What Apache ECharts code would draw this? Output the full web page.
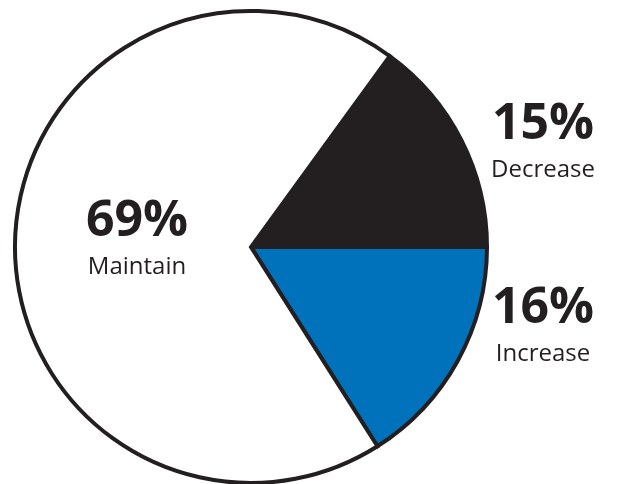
<!DOCTYPE html>
<html>
<head>
<meta charset="utf-8">
<style>
  html, body { margin: 0; padding: 0; background: #ffffff; }
  #chart { width: 618px; height: 484px; }
</style>
<script src="https://cdn.jsdelivr.net/npm/echarts@6/dist/echarts.min.js"></script>
</head>
<body>
<div id="chart"></div>
<script>
// Share of respondents by planned change
const categories = ['Decrease', 'Increase', 'Maintain'];
const shares = [15, 16, 69];
const sliceColors = ['#231f20', '#0072bc', '#ffffff'];
// Label anchor points (px) for each slice's caption
const labelSpots = [[543, 144], [543, 328], [137, 241]];

const ink = '#231f20';

const chart = echarts.init(document.getElementById('chart'), null, { renderer: 'canvas' });

chart.setOption({
  animation: false,
  backgroundColor: '#ffffff',
  series: [{
    type: 'pie',
    center: [251, 247],
    radius: 236,
    startAngle: 54,
    clockwise: true,
    silent: true,
    data: categories.map((name, i) => ({
      name: name,
      value: shares[i],
      itemStyle: { color: sliceColors[i] }
    })),
    itemStyle: {
      borderColor: ink,
      borderWidth: 4,
      borderJoin: 'miter'
    },
    labelLine: { show: false },
    label: {
      show: true,
      position: 'inside',
      formatter: p => '{p|' + p.value + '%}\n{n|' + p.name + '}',
      align: 'center',
      verticalAlign: 'middle',
      rich: {
        p: {
          fontFamily: 'Open Sans',
          fontWeight: 'bold',
          fontSize: 50,
          lineHeight: 52,
          color: ink,
          align: 'center'
        },
        n: {
          fontFamily: 'Open Sans',
          fontSize: 24,
          lineHeight: 38,
          color: ink,
          align: 'center'
        }
      }
    },
    labelLayout: params => ({
      x: labelSpots[params.dataIndex][0],
      y: labelSpots[params.dataIndex][1],
      align: 'center',
      verticalAlign: 'middle'
    })
  }]
});
</script>
</body>
</html>
